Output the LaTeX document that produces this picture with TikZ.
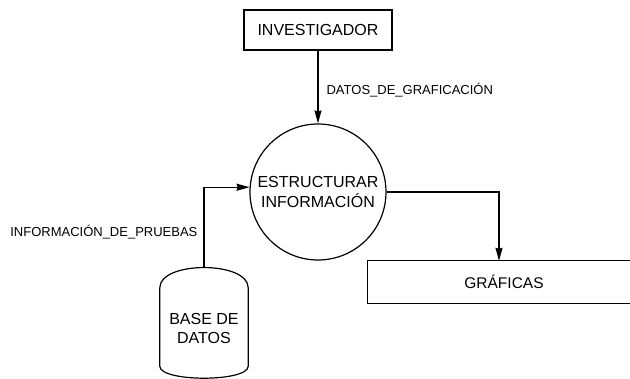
\documentclass[tikz,border=0pt]{standalone}
\usepackage{fontspec}
\setmainfont{Liberation Sans}
\usetikzlibrary{arrows.meta,
                calc,
                positioning}

\begin{document}
\begin{tikzpicture}[
        x=1pt, y=-1pt,
        entity/.style={rectangle, minimum width=148pt, minimum height=40pt, text centered, draw=black, line width=1.2pt, font=\fontsize{16}{19}\selectfont},
        process/.style={circle, minimum size=136pt, inner sep=0pt, align=center, draw=black, line width=1.2pt, font=\fontsize{16}{20}\selectfont},
        store/.style={rectangle, minimum width=262pt, minimum height=42pt, text centered, font=\fontsize{15.5}{19}\selectfont},
        dbase/.style={rectangle, minimum width=88pt, minimum height=110pt, align=center, font=\fontsize{16}{19}\selectfont},
        flowlabel/.style={font=\fontsize{13}{15}\selectfont, inner sep=2pt},
        flow/.style={line width=1.2pt, -{Stealth[length=13pt, width=7pt, inset=1pt]}}
        ]
        \useasboundingbox (0,0) rectangle (630,379);

        \node (proc)  [process]  at (318,192)  {ESTRUCTURAR\\INFORMACIÓN};
        \node (inv)   [entity]   at (318,30)   {INVESTIGADOR};
        \node (graf)  [store]    at (499,282)  {\hspace*{10pt}GRÁFICAS};
        \node (db)    [dbase]    at (204,323)  {\\[4pt]BASE DE\\DATOS};

        % data store, open on the right
        \draw [line width=1.2pt] (graf.north east) -- (graf.north west) -- (graf.south west) -- (graf.south east);

        % cylinder of the database
        \draw [line width=1.2pt] ($(db.north west)+(0,20)$) .. controls ($(db.north west)+(0,-7)$) and ($(db.north east)+(0,-7)$) .. ($(db.north east)+(0,20)$)
                      -- ($(db.south east)+(0,-12)$) .. controls ($(db.south east)+(0,4)$) and ($(db.south west)+(0,4)$) .. ($(db.south west)+(0,-12)$)
                      -- cycle;

        \draw [flow] (inv) -- node[flowlabel, pos=0.55, right=6pt] {DATOS\_DE\_GRAFICACIÓN} (proc);
        \draw [flow] (db.north) |- node[flowlabel, pos=0.22, left=4pt] {INFORMACIÓN\_DE\_PRUEBAS} (proc.176);
        \draw [flow] (proc.east) -| (graf.north);

    \end{tikzpicture}
\end{document}
